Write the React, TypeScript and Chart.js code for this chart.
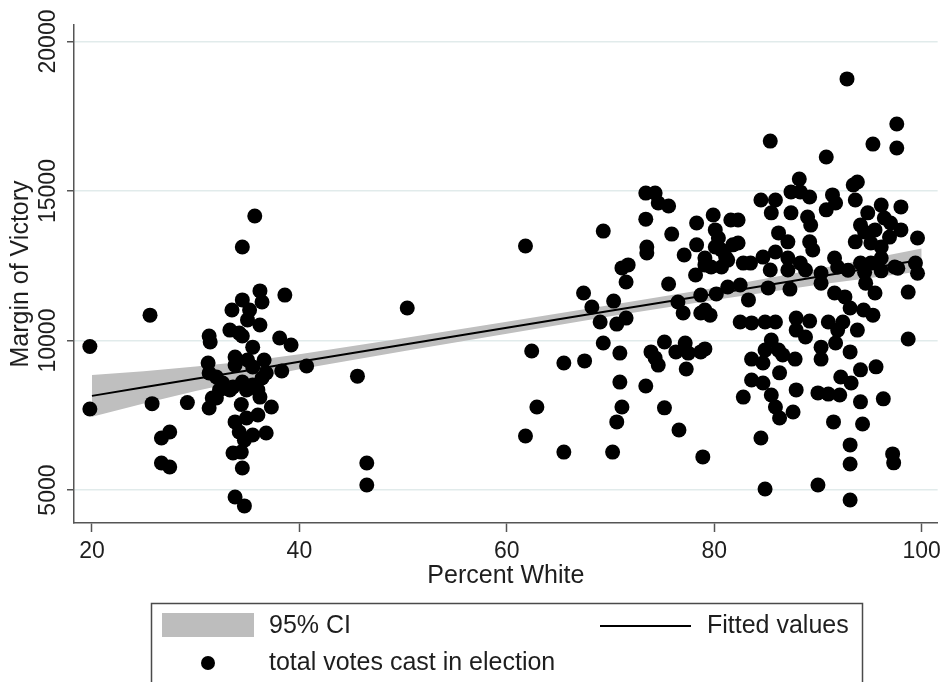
import React, { useEffect, useRef } from "react";
import { Chart, registerables } from "chart.js";

Chart.register(...registerables);

// ---- Data ----
const xTickValues = [20, 40, 60, 80, 100];
const yTickValues = [5000, 10000, 15000, 20000];

const xTitle = "Percent White";
const yTitle = "Margin of Victory";
const ciLabel = "95% CI";
const fitLabel = "Fitted values";
const pointLabel = "total votes cast in election";

const pctWhite = [
  19.8, 19.8, 25.6, 25.8, 29.2, 26.7, 27.5, 26.7, 27.5,
  31.3, 31.4, 31.2, 31.3, 31.3, 31.6,
  33.5, 34.5, 36.2, 36.4, 35.2, 38.6, 33.3, 34.2, 36.2, 35.0,
  34.5, 35.5, 38.1, 39.2, 33.8, 35.0, 36.6, 33.8, 35.5, 38.3, 40.7,
  32.0, 32.6, 33.6, 34.5, 35.5, 36.4, 36.8, 32.3, 33.3, 34.9, 36.0,
  36.2, 32.0, 34.4, 37.3, 33.8, 34.9, 36.0, 34.2, 35.5, 36.8, 34.7,
  33.6, 34.4, 34.5, 33.8, 34.7, 35.7, 34.5,
  45.6, 50.4, 46.5, 46.5,
  61.8, 62.4, 65.5, 67.5, 69.3, 67.4, 68.2, 70.3, 69.0, 70.6, 69.3, 70.9, 70.9, 71.1, 70.6,
  62.9, 61.8, 65.5, 70.2, 71.1, 71.5, 71.5, 71.7,
  73.4, 74.3, 74.6, 75.6, 73.4, 75.9, 78.3, 79.9, 81.6,
  73.5, 73.5, 78.3, 77.1, 80.1, 80.4, 80.1, 80.7, 81.1, 81.8,
  79.1, 79.7, 80.7, 81.3, 79.1, 82.8, 83.5, 78.2, 75.6,
  76.5, 77.0, 78.7, 80.2, 81.3, 78.7, 79.6, 79.1,
  82.5, 83.6, 83.3, 82.5,
  75.2, 73.9, 74.3, 74.6, 76.3, 77.2, 77.5, 77.3, 78.7, 79.1,
  73.4, 75.2, 76.6, 78.9, 82.8, 83.6, 83.6, 84.5,
  92.8, 97.6, 97.6, 95.3, 85.4, 90.8, 88.2, 93.4, 93.8,
  87.4, 89.2, 88.3, 85.9, 91.4, 91.7, 93.6, 96.1, 98.0,
  85.5, 87.4, 89.0, 89.3, 90.8, 94.8, 96.4, 94.1, 95.5, 97.0, 98.0, 99.6,
  82.3, 82.3, 86.2, 87.1, 85.9, 89.2, 89.5, 93.6,
  94.5, 95.1, 96.1, 96.9,
  84.7, 87.1, 88.3, 91.6, 91.9, 94.1, 95.1, 96.1, 97.4, 99.4,
  85.4, 87.1, 88.8, 90.3, 92.9, 94.5, 96.1, 97.7, 99.6,
  85.2, 87.3, 90.3, 91.6, 92.6, 94.6, 95.5, 98.7,
  93.1, 94.4, 95.3, 84.9, 85.9,
  87.9, 89.2, 87.9, 88.8, 91.0, 92.4, 91.9, 93.8, 98.7,
  85.5, 84.9, 86.2, 86.6, 84.7,
  87.8, 90.3, 91.7, 90.3, 93.1,
  86.3, 84.7, 92.2, 93.2, 94.1, 95.6,
  85.5, 85.9, 86.3, 87.6, 87.9, 90.0, 91.0, 92.1,
  94.1, 96.3, 91.5, 94.3,
  84.5, 93.1, 93.1, 97.2, 97.3,
  84.9, 90.0, 93.1,
];

const marginVotes = [
  9800, 7710, 10850, 7890, 7925, 6740, 6940, 5905, 5770,
  10150, 9950, 9250, 8915, 7745, 8080,
  11020, 11360, 11660, 11290, 11020, 11520, 10350, 10250, 10520, 10690,
  10150, 9780, 10085, 9850, 9450, 9350, 9350, 9180, 9115, 8980, 9150,
  8780, 8580, 8450, 8610, 8510, 8750, 8915, 8350, 8350, 8350, 8350,
  8110, 8080, 7860, 7780, 7280, 7410, 7510, 6940, 6840, 6910, 6670,
  6240, 6270, 5740, 4770, 4470, 14165, 13130,
  8810, 11090, 5905, 5170,
  13160, 9650, 9250, 9320, 13660, 11590, 11120, 11320, 10620, 10550, 9920, 9580, 8610, 7780, 7280,
  7780, 6810, 6270, 6270, 12430, 11960, 10750, 12530,
  14930, 14930, 14600, 14500, 14060, 13560, 13930, 14200, 14030,
  13130, 12930, 13200, 12860, 13700, 13430, 13130, 13030, 12790, 13200,
  12760, 12460, 12460, 12690, 12530, 12590, 12590, 12190, 11890,
  11290, 10920, 11520, 11560, 11790, 10920, 10850, 11020,
  10620, 10590, 11360, 11860,
  9950, 9620, 9420, 9180, 9620, 9920, 9580, 9050, 9620, 9720,
  8480, 7750, 7010, 6110, 8110, 9380, 8680, 14700,
  18750, 17240, 16440, 16570, 16670, 16140, 15400, 15200, 15300,
  14970, 14800, 14970, 14700, 14870, 14600, 14700, 14530, 14470,
  14270, 14270, 14130, 13860, 14370, 14270, 14100, 13860, 13700, 13930, 13700, 13430,
  14030, 13260, 13600, 13300, 12960, 13300, 13030, 13300,
  13630, 13260, 13130, 13460,
  12790, 12760, 12590, 12760, 12460, 12590, 12590, 12760, 12460, 12590,
  12360, 12360, 12360, 12260, 12350, 12280, 12330, 12420, 12250,
  11760, 11720, 11920, 11590, 11460, 11920, 11590, 11620,
  11090, 11020, 10850, 10620, 10620,
  10750, 10650, 10350, 10120, 10620, 10620, 10350, 10350, 10050,
  10020, 9680, 9680, 9520, 9250,
  9380, 9780, 9920, 9380, 9620,
  8920, 8580, 8780, 8580, 9020, 9120,
  8180, 7780, 7410, 7610, 8350, 8250, 8210, 8180,
  7950, 8050, 7280, 7210,
  6740, 6510, 5870, 6210, 5910,
  5035, 5170, 4670,
];

const fitX = [20, 25, 30, 35, 40, 50, 60, 70, 80, 90, 100];
const fitY = [8150, 8435, 8720, 9000, 9290, 9860, 10430, 11000, 11560, 12130, 12700];
const ciLower = [7450, 7895, 8310, 8690, 9040, 9640, 10230, 10810, 11360, 11870, 12320];
const ciUpper = [8850, 8975, 9130, 9310, 9540, 10080, 10630, 11190, 11760, 12390, 13080];

const X_MIN = 18.27;
const X_MAX = 101.54;
const Y_MIN = 3899;
const Y_MAX = 20552;

const FONT = '"Liberation Sans", Arial, Helvetica, sans-serif';
const AXIS_COLOR = "#555555";
const TEXT_COLOR = "#1e1e1e";

const customPlugin = {
  id: "stataDecor",
  afterDraw(chart: any) {
    const ctx = chart.ctx as CanvasRenderingContext2D;
    const yScale = chart.scales.y;
    const area = chart.chartArea;
    ctx.save();
    // y tick labels, rotated
    ctx.fillStyle = TEXT_COLOR;
    ctx.font = `23px ${FONT}`;
    ctx.textAlign = "center";
    ctx.textBaseline = "alphabetic";
    for (const t of yScale.ticks) {
      const py = yScale.getPixelForValue(t.value);
      ctx.save();
      ctx.translate(area.left - 19, py);
      ctx.rotate(-Math.PI / 2);
      ctx.fillText(String(t.value), 0, 0);
      ctx.restore();
    }
    // y title
    ctx.save();
    ctx.font = `25px ${FONT}`;
    ctx.translate(area.left - 46, (area.top + area.bottom) / 2);
    ctx.rotate(-Math.PI / 2);
    ctx.fillText(yTitle, 0, 0);
    ctx.restore();

    // legend box
    const lx = area.left + 77.5;
    const ly = 603.5;
    const lw = 711;
    ctx.strokeStyle = "#4a4a4a";
    ctx.lineWidth = 1.5;
    ctx.strokeRect(lx, ly, lw, 100);
    // CI swatch
    ctx.fillStyle = "#bdbdbd";
    ctx.fillRect(lx + 10.5, ly + 9.5, 92, 24);
    // fitted line swatch
    ctx.strokeStyle = "#000";
    ctx.lineWidth = 2;
    ctx.beginPath();
    ctx.moveTo(lx + 448.5, ly + 22.5);
    ctx.lineTo(lx + 539.5, ly + 22.5);
    ctx.stroke();
    // dot swatch
    ctx.fillStyle = "#000";
    ctx.beginPath();
    ctx.arc(lx + 56.5, ly + 59.5, 7, 0, Math.PI * 2);
    ctx.fill();
    // legend text
    ctx.fillStyle = TEXT_COLOR;
    ctx.font = `25px ${FONT}`;
    ctx.textAlign = "left";
    ctx.textBaseline = "middle";
    ctx.fillText(ciLabel, lx + 117.5, ly + 22.5);
    ctx.fillText(fitLabel, lx + 555.5, ly + 22.5);
    ctx.fillText(pointLabel, lx + 117.5, ly + 60);
    ctx.restore();
  },
};

export default function App() {
  const canvasRef = useRef<HTMLCanvasElement | null>(null);

  useEffect(() => {
    document.body.style.margin = "0";
    const canvas = canvasRef.current;
    if (!canvas) return;
    const points = pctWhite.map((x, i) => ({ x, y: marginVotes[i] }));
    const fitPts = fitX.map((x, i) => ({ x, y: fitY[i] }));
    const lowPts = fitX.map((x, i) => ({ x, y: ciLower[i] }));
    const highPts = fitX.map((x, i) => ({ x, y: ciUpper[i] }));

    const chart = new Chart(canvas, {
      type: "scatter",
      data: {
        datasets: [
          {
            label: pointLabel,
            data: points,
            backgroundColor: "#000",
            borderWidth: 0,
            pointRadius: 7.5,
            pointHoverRadius: 7.5,
          } as any,
          {
            type: "line",
            label: fitLabel,
            data: fitPts,
            borderColor: "#000",
            borderWidth: 2,
            pointRadius: 0,
            fill: false,
            tension: 0,
          } as any,
          {
            type: "line",
            label: ciLabel,
            data: highPts,
            borderWidth: 0,
            borderColor: "rgba(0,0,0,0)",
            backgroundColor: "#bfbfbf",
            pointRadius: 0,
            fill: "+1",
            tension: 0,
          } as any,
          {
            type: "line",
            label: "ci-low",
            data: lowPts,
            borderWidth: 0,
            borderColor: "rgba(0,0,0,0)",
            pointRadius: 0,
            fill: false,
            tension: 0,
          } as any,
        ],
      },
      options: {
        responsive: false,
        animation: false,
        events: [],
        layout: { padding: { top: 25, right: 7, left: 0, bottom: 92 } },
        plugins: {
          legend: { display: false },
          tooltip: { enabled: false },
        },
        scales: {
          x: {
            type: "linear",
            min: X_MIN,
            max: X_MAX,
            afterBuildTicks: (s: any) => {
              s.ticks = xTickValues.map((v) => ({ value: v }));
            },
            afterFit: (s: any) => {
              s.height = 67;
            },
            grid: {
              drawOnChartArea: false,
              drawTicks: true,
              tickLength: 9,
              tickColor: AXIS_COLOR,
              tickWidth: 1.5,
            },
            border: { display: true, color: AXIS_COLOR, width: 1.5 },
            ticks: {
              color: TEXT_COLOR,
              font: { family: FONT, size: 23 },
              padding: 6,
              maxRotation: 0,
              minRotation: 0,
              autoSkip: false,
            },
            title: {
              display: true,
              text: xTitle,
              color: TEXT_COLOR,
              font: { family: FONT, size: 25 },
              padding: { top: 0, bottom: -1 },
            },
          },
          y: {
            type: "linear",
            min: Y_MIN,
            max: Y_MAX,
            afterBuildTicks: (s: any) => {
              s.ticks = yTickValues.map((v) => ({ value: v }));
            },
            afterFit: (s: any) => {
              s.width = 74;
            },
            grid: {
              drawOnChartArea: true,
              color: "#e1ebeb",
              lineWidth: 1.5,
              drawTicks: true,
              tickLength: 7,
              tickColor: AXIS_COLOR,
              tickWidth: 1.5,
            },
            border: { display: true, color: AXIS_COLOR, width: 1.5 },
            ticks: { display: false },
            title: { display: false },
          },
        },
      },
      plugins: [customPlugin],
    });
    return () => chart.destroy();
  }, []);

  return (
    <canvas
      ref={canvasRef}
      width={947}
      height={682}
      style={{ display: "block", width: 947, height: 682 }}
    />
  );
}
